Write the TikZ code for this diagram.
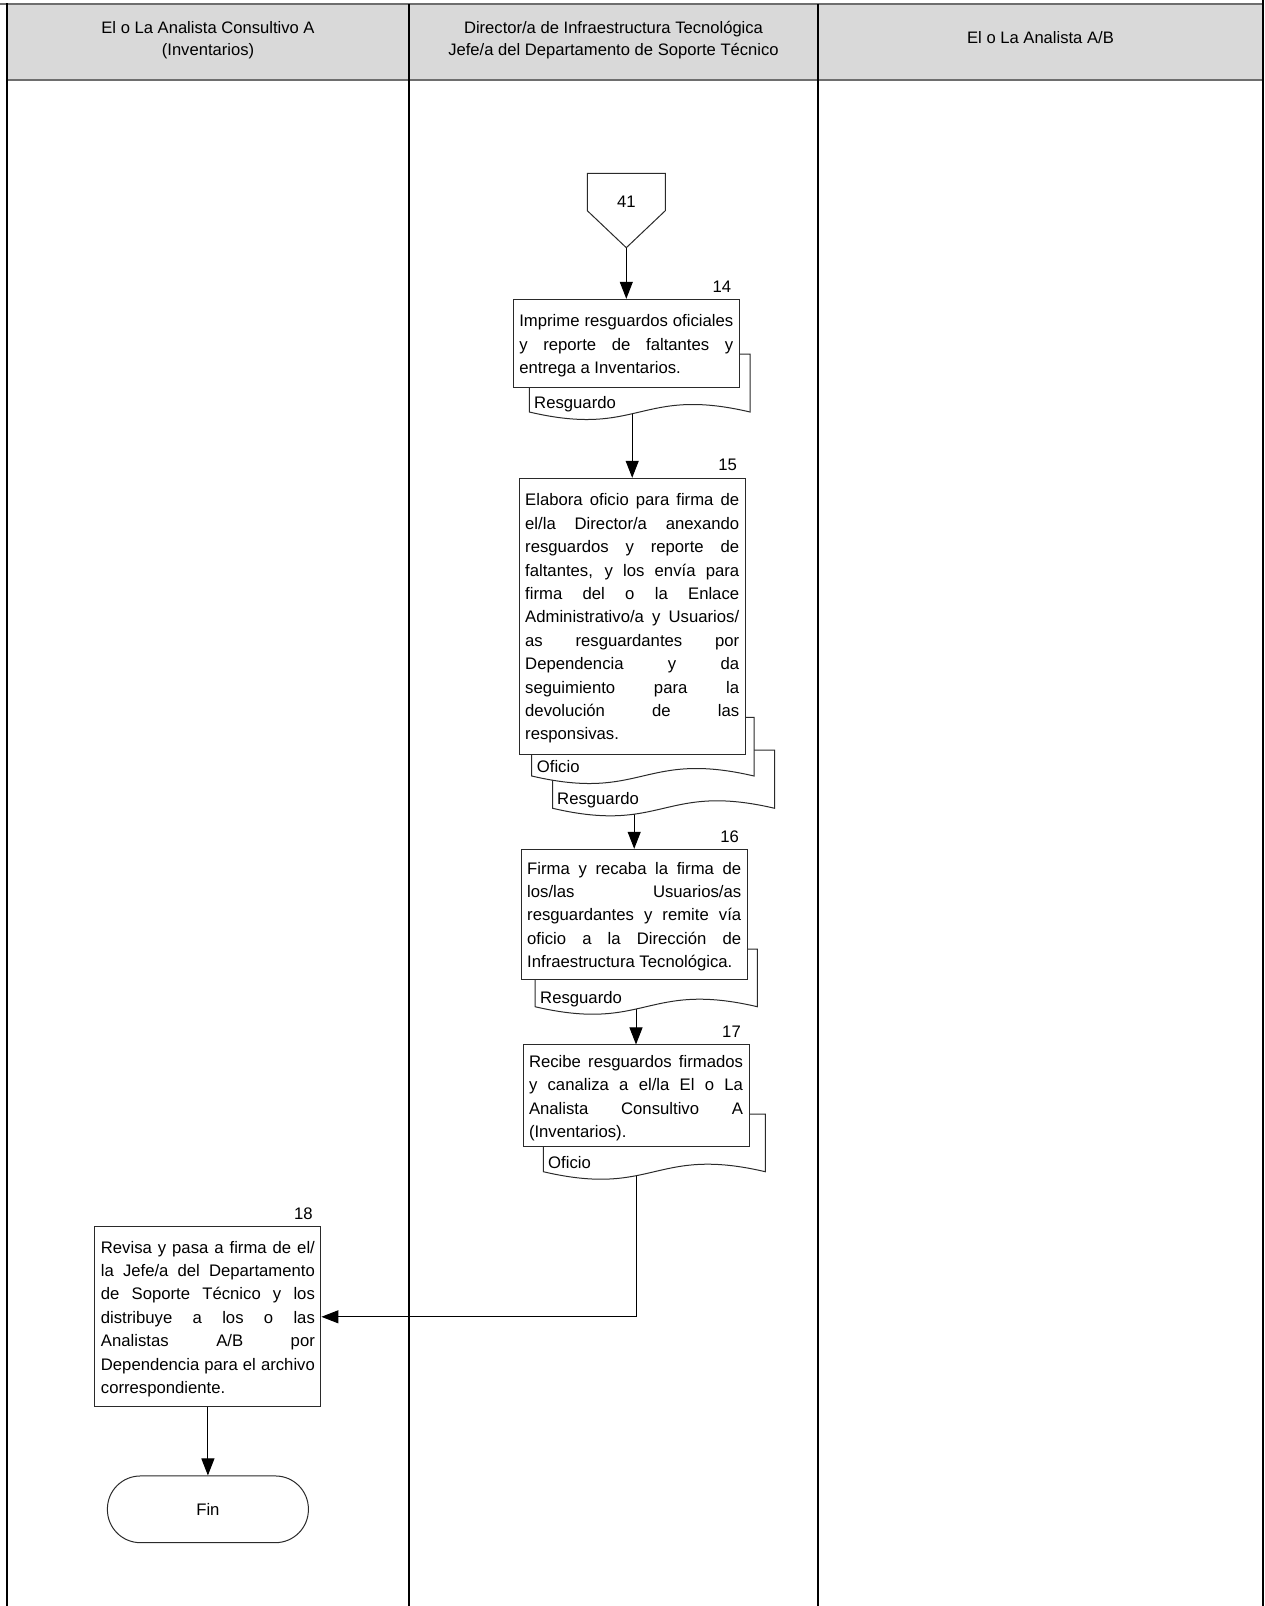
\documentclass[tikz,border=0pt]{standalone}
\usepackage{fontspec}
\setmainfont{Liberation Sans}
\usetikzlibrary{arrows.meta,calc,backgrounds}
\newlength{\boxtw}\setlength{\boxtw}{214pt}
\newcommand{\jl}[1]{\makebox[\boxtw][s]{\spaceskip=0.2778em plus 1fill\relax #1}}
\definecolor{hdrfill}{HTML}{D9D9D9}
\definecolor{hdrline}{HTML}{6E6E6E}
\definecolor{boxline}{HTML}{2A2A2A}
\newcommand{\docshape}[4]{%
  \draw[docst] (#1,#4) -- (#1,#2) -- (#3,#2) -- (#3,#4)
    .. controls ({(#1+#3)/2},{#4-26}) and ({(#1+#3)/2},{#4+26}) .. (#1,#4) -- cycle;}
\tikzset{
  box/.style={draw=boxline, line width=1pt, fill=white, minimum width=226pt,
    text width=214pt, inner xsep=6pt, inner ysep=0pt, align=justify,
    font=\fontsize{16.7}{23.4}\selectfont,
    execute at begin node={\rule{0pt}{16.5pt}}},
  docst/.style={draw=boxline, line width=1pt, fill=white},
  doclbl/.style={anchor=base west, inner sep=0pt, font=\fontsize{16.7}{20}\selectfont},
  num/.style={inner sep=0pt, font=\fontsize{16.7}{20}\selectfont},
  hdr/.style={align=center, inner sep=0pt, font=\fontsize{16.6}{22}\selectfont},
  lane/.style={draw=black, line width=1.2pt},
  arr/.style={draw=black, line width=1pt, -{Triangle[length=17pt,width=13pt]}},
  termst/.style={draw=boxline, line width=1pt, fill=white, rounded corners=33pt,
    minimum width=201pt, minimum height=66.7pt, font=\fontsize{16.7}{20}\selectfont},
  offpage/.style={draw=boxline, line width=1pt, fill=white}
}
\begin{document}
\begin{tikzpicture}[x=1pt,y=-1pt]
\useasboundingbox (0,0) rectangle (1265,1606);
% header band
\fill[hdrfill] (7,4) rectangle (1263,80);
\draw[hdrline, line width=2pt] (0,4) -- (1263,4);
\draw[hdrline, line width=2pt] (7,80) -- (1263,80);
% lanes
\draw[lane] (7,3) -- (7,1606);
\draw[lane] (409,4) -- (409,1606);
\draw[lane] (818,4) -- (818,1606);
\draw[lane] (1263,0) -- (1263,1606);
\node[hdr] (h1) at (208,40) {El o La Analista Consultivo A\\(Inventarios)};
\node[hdr] (h2) at (613.5,40) {Director/a de Infraestructura Tecnológica\\Jefe/a del Departamento de Soporte Técnico};
\node[hdr] (h3) at (1040.5,38) {El o La Analista A/B};

% off-page connector 41
\draw[offpage] (587.3,173.3) -- (665.3,173.3) -- (665.3,210.7) -- (626.3,247.7) -- (587.3,210.7) -- cycle;
\node[num] (c41) at (626.3,201.7) {41};
\coordinate (c41tip) at (626.3,247.7);

% step 14
\docshape{529.3}{354}{750}{412}
\node[doclbl] (d14) at (534,408.7) {Resguardo};
\node[box, minimum height=88.4pt] (b14) at (626.3,343.5)
  {\jl{Imprime resguardos oficiales}\\\jl{y reporte de faltantes y}\\entrega a Inventarios.};
\node[num] (n14) at ($(b14.north east)+(-18,-12.5)$) {14};
\coordinate (d14out) at (632.2,405);

% step 15
\docshape{552.7}{750}{774.7}{808.3}
\node[doclbl] (d15b) at (557,804) {Resguardo};
\docshape{531.7}{717.3}{754}{776}
\node[doclbl] (d15a) at (536.7,772.5) {Oficio};
\node[box, minimum height=276pt] (b15) at (632.2,616.3)
  {\jl{Elabora oficio para firma de}\\\jl{el/la Director/a anexando}\\\jl{resguardos y reporte de}\\\jl{faltantes, y los envía para}\\\jl{firma del o la Enlace}\\\jl{Administrativo/a y Usuarios/}\\\jl{as resguardantes por}\\\jl{Dependencia y da}\\\jl{seguimiento para la}\\\jl{devolución de las}\\responsivas.};
\node[num] (n15) at ($(b15.north east)+(-18,-12.5)$) {15};
\coordinate (d15out) at (634.2,801);

% step 16
\docshape{535}{949}{757.3}{1006.7}
\node[doclbl] (d16) at (540,1003.3) {Resguardo};
\node[box, minimum height=130pt] (b16) at (634.2,914.3)
  {\jl{Firma y recaba la firma de}\\\jl{los/las Usuarios/as}\\\jl{resguardantes y remite vía}\\\jl{oficio a la Dirección de}\\Infraestructura Tecnológica.};
\node[num] (n16) at ($(b16.north east)+(-18,-12.5)$) {16};
\coordinate (d16out) at (636,1000);

% step 17
\docshape{543.3}{1114}{765.3}{1171.7}
\node[doclbl] (d17) at (548,1168.5) {Oficio};
\node[box, minimum height=101.7pt] (b17) at (636,1095.8)
  {\jl{Recibe resguardos firmados}\\\jl{y canaliza a el/la El o La}\\\jl{Analista Consultivo A}\\(Inventarios).};
\node[num] (n17) at ($(b17.north east)+(-18,-12.5)$) {17};
\coordinate (d17out) at (636,1165);

% step 18
\node[box, minimum height=179.7pt] (b18) at (207.9,1316.8)
  {\jl{Revisa y pasa a firma de el/}\\\jl{la Jefe/a del Departamento}\\\jl{de Soporte Técnico y los}\\\jl{distribuye a los o las}\\\jl{Analistas A/B por}\\\jl{Dependencia para el archivo}\\correspondiente.};
\node[num] (n18) at ($(b18.north east)+(-18,-12.5)$) {18};

% end
\node[termst] (fin) at (207.9,1509.3) {Fin};

% connectors
\begin{pgfonlayer}{background}
\draw[arr] (c41tip) -- (b14.north);
\draw[arr] (d14out) -- (d14out |- b15.north);
\draw[arr] (d15out) -- (d15out |- b16.north);
\draw[arr] (d16out) -- (d16out |- b17.north);
\draw[arr] (d17out) |- (b18.east);
\draw[arr] (b18.south) -- (fin.north);
\end{pgfonlayer}
\end{tikzpicture}
\end{document}
